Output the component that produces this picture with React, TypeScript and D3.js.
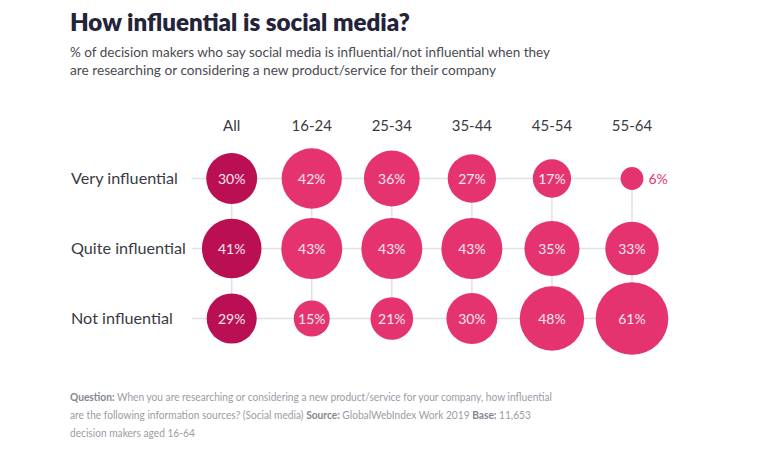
import React from "react";
import * as d3 from "d3";

const columns = ["All", "16-24", "25-34", "35-44", "45-54", "55-64"];
const rows = ["Very influential", "Quite influential", "Not influential"];
const veryInfluential = [30, 42, 36, 27, 17, 6];
const quiteInfluential = [41, 43, 43, 43, 35, 33];
const notInfluential = [29, 15, 21, 30, 48, 61];
const seriesValues = [veryInfluential, quiteInfluential, notInfluential];

const W = 763;
const H = 450;
const FONT = "Lato, 'Noto Sans', sans-serif";

export default function App() {
  const x = d3.scalePoint<string>().domain(columns).range([231.7, 632]);
  const y = d3.scalePoint<string>().domain(rows).range([178.5, 318.5]);
  const r = d3.scaleSqrt().domain([0, 100]).range([0, 46.5]);

  const cells = rows.flatMap((row, ri) =>
    columns.map((col, ci) => ({ row, col, ci, v: seriesValues[ri][ci] }))
  );

  return (
    <div style={{ position: "absolute", left: 0, top: 0 }}>
      <svg width={W} height={H} style={{ display: "block", background: "#fff" }}>
        <text x={70} y={31} fontFamily={FONT} fontWeight={800} fontSize={24.5} fill="#24233a" textLength={340} lengthAdjust="spacingAndGlyphs">
          How influential is social media?
        </text>
        <text x={70} y={57} fontFamily={FONT} fontSize={14.3} fill="#4a4a52" textLength={480} lengthAdjust="spacingAndGlyphs">
          % of decision makers who say social media is influential/not influential when they
        </text>
        <text x={70} y={75} fontFamily={FONT} fontSize={14.3} fill="#4a4a52" textLength={426} lengthAdjust="spacingAndGlyphs">
          are researching or considering a new product/service for their company
        </text>

        {columns.map((c) => (
          <text key={c} x={x(c)} y={131} textAnchor="middle" fontFamily={FONT} fontSize={15} fill="#3a3a42">
            {c}
          </text>
        ))}
        {rows.map((rw) => (
          <g key={rw}>
            <line x1={192} x2={x(columns[columns.length - 1])} y1={y(rw)} y2={y(rw)} stroke="#e0e1e8" strokeWidth={1.5} />
            <text x={71} y={(y(rw) as number) + 5} fontFamily={FONT} fontSize={16.2} fill="#3a3a42">
              {rw}
            </text>
          </g>
        ))}
        {columns.map((c) => (
          <line key={c} x1={x(c)} x2={x(c)} y1={y(rows[0])} y2={y(rows[rows.length - 1])} stroke="#e0e1e8" strokeWidth={1.5} />
        ))}

        {cells.map((d) => {
          const cx = x(d.col) as number;
          const cy = y(d.row) as number;
          const rad = r(d.v);
          const inside = rad > 14;
          return (
            <g key={d.row + d.col}>
              <circle cx={cx} cy={cy} r={rad} fill={d.ci === 0 ? "#bb0f54" : "#e5336f"} />
              <text
                x={inside ? cx : cx + rad + 5}
                y={cy + 5}
                textAnchor={inside ? "middle" : "start"}
                fontFamily={FONT}
                fontSize={14}
                fill={inside ? "#fde8ef" : "#e5336f"}
              >
                {d.v}%
              </text>
            </g>
          );
        })}

        <g transform="translate(70,0) scale(0.834,1)" fontFamily={FONT} fontSize={12.2} fill="#9c9ca5">
          <text x={0} y={401}>
            <tspan fontWeight={700} fill="#85858f">Question:</tspan> When you are researching or considering a new product/service for your company, how influential
          </text>
          <text x={0} y={419}>
            are the following information sources? (Social media) <tspan fontWeight={700} fill="#85858f">Source:</tspan> GlobalWebIndex Work 2019 <tspan fontWeight={700} fill="#85858f">Base:</tspan> 11,653
          </text>
          <text x={0} y={437}>decision makers aged 16-64</text>
        </g>
      </svg>
    </div>
  );
}
